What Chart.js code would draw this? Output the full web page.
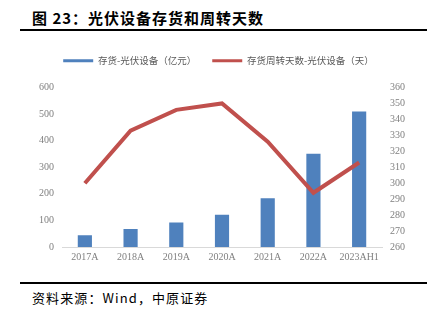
<!DOCTYPE html>
<html>
<head>
<meta charset="utf-8">
<script src="https://cdn.jsdelivr.net/npm/chart.js@4.4.0/dist/chart.umd.min.js"></script>
<style>
body { margin:0; background:#fff; width:427px; height:322px; overflow:hidden; position:relative; }
#title { position:absolute; left:32px; top:7px; font-family:"Noto Sans CJK SC"; font-weight:bold; font-size:15px; color:#000; letter-spacing:1px; }
#rule1 { position:absolute; left:20px; right:0; top:29px; height:2px; background:#000; }
#rule2 { position:absolute; left:20px; right:0; top:282px; height:2px; background:#000; }
#src { position:absolute; left:32px; top:288px; font-family:"Noto Sans CJK SC"; font-size:13px; color:#000; letter-spacing:1.1px; }
#wrap { position:absolute; left:0; top:40px; width:427px; height:227px; }
</style>
</head>
<body>
<div id="title">图 23：光伏设备存货和周转天数</div>
<div id="rule1"></div>
<div id="wrap"><canvas id="c"></canvas></div>
<div id="rule2"></div>
<div id="src">资料来源：Wind，中原证券</div>
<script>
var years = ['2017A', '2018A', '2019A', '2020A', '2021A', '2022A', '2023AH1'];
var inventory = [44, 68, 92, 121, 183, 351, 510];
var turnoverDays = [300, 333, 346, 350, 326, 294, 313];
var leftTicks = [0, 100, 200, 300, 400, 500, 600];
var rightTicks = [260, 270, 280, 290, 300, 310, 320, 330, 340, 350, 360];

var tickFont = { family: 'Liberation Serif', size: 10 };

// extra room under the legend
var legendGap = {
  id: 'legendGap',
  beforeInit: function (ch) {
    var fit = ch.legend.fit;
    ch.legend.fit = function () { fit.call(this); this.height += 12; };
  }
};

var ctx = document.getElementById('c').getContext('2d');
var chart = new Chart(ctx, {
  type: 'bar',
  data: {
    labels: years,
    datasets: [
      {
        type: 'line',
        label: '存货周转天数-光伏设备（天）',
        data: turnoverDays,
        borderColor: '#c0504d',
        backgroundColor: '#c0504d',
        borderWidth: 4,
        pointRadius: 0,
        tension: 0,
        yAxisID: 'y1',
        order: 0
      },
      {
        label: '存货-光伏设备（亿元）',
        data: inventory,
        backgroundColor: '#4f81bd',
        barPercentage: 0.62,
        categoryPercentage: 0.5,
        yAxisID: 'y',
        order: 1
      }
    ]
  },
  plugins: [legendGap],
  options: {
    responsive: true,
    maintainAspectRatio: false,
    animation: false,
    layout: { padding: { left: 28, right: 18, top: 0, bottom: 0 } },
    plugins: {
      tooltip: { enabled: false },
      legend: {
        position: 'top',
        reverse: true,
        labels: {
          font: { family: 'Noto Sans CJK SC', size: 9.5 },
          color: '#595959',
          boxWidth: 30,
          boxHeight: 3,
          padding: 16,
          generateLabels: function (ch) {
            return ch.data.datasets.map(function (ds, i) {
              return { text: ds.label, fillStyle: ds.type === 'line' ? ds.borderColor : ds.backgroundColor, lineWidth: 0, strokeStyle: 'transparent', datasetIndex: i, fontColor: '#595959' };
            });
          }
        }
      }
    },
    scales: {
      x: {
        grid: { display: false, drawTicks: false },
        border: { color: '#d9d9d9', width: 1 },
        ticks: { font: tickFont, color: '#7f7f7f', padding: 4 }
      },
      y: {
        position: 'left',
        min: 0, max: 600,
        afterBuildTicks: function (s) { s.ticks = leftTicks.map(function (v) { return { value: v }; }); },
        afterFit: function (s) { s.width = 34; },
        grid: { display: false, drawTicks: false },
        border: { display: false },
        ticks: { font: tickFont, color: '#7f7f7f', padding: 8 }
      },
      y1: {
        position: 'right',
        min: 260, max: 360,
        afterBuildTicks: function (s) { s.ticks = rightTicks.map(function (v) { return { value: v }; }); },
        afterFit: function (s) { s.width = 27; },
        grid: { display: false, drawTicks: false },
        border: { display: false },
        ticks: { font: tickFont, color: '#7f7f7f', padding: 8 }
      }
    }
  }
});
</script>
</body>
</html>
